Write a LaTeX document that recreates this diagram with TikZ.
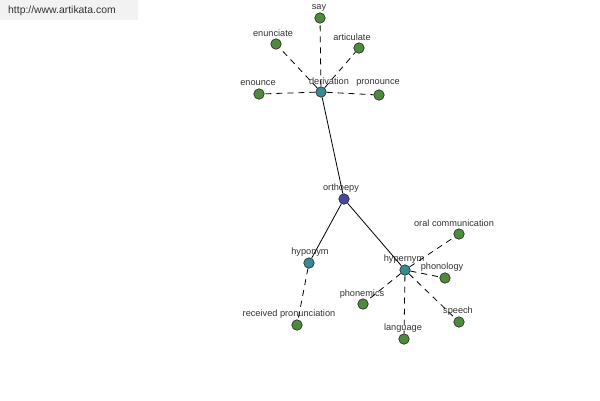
\documentclass[tikz,border=0pt]{standalone}
\usepackage{fontspec}
\setmainfont{Liberation Sans}
\usepackage{tikz}
\usetikzlibrary{positioning}

\definecolor{leafgreen}{RGB}{78,138,62}
\definecolor{hubteal}{RGB}{58,136,146}
\definecolor{rootblue}{RGB}{72,72,160}
\definecolor{labelgray}{RGB}{50,50,50}

\begin{document}
\begin{tikzpicture}[
    x=1pt,y=-1pt,
    dot/.style={circle,draw=black!85,line width=0.6pt,minimum size=10.5pt,inner sep=0pt},
    leaf/.style={dot,fill=leafgreen},
    hub/.style={dot,fill=hubteal},
    root/.style={dot,fill=rootblue},
    tag/.style={inner sep=0pt,font=\fontsize{9.2}{11}\selectfont,text=labelgray},
    rel/.style={line width=0.8pt,black},
    syn/.style={rel,dash pattern=on 6pt off 5pt}
  ]
    \useasboundingbox (0,0) rectangle (600,400);
    % site banner
    \fill[gray!10] (0,0) rectangle (138,20);
    \node[tag,anchor=west,font=\fontsize{10.4}{12}\selectfont] (site) at (8,11) {http://www.artikata.com};

    % central word and its relations
    \node[root] (orth) at (344,199) {};
    \node[hub] (deriv) at (321,92) {};
    \node[hub] (hypo) at (309,263) {};
    \node[hub] (hyper) at (405,270) {};

    \node[tag] (orth-t) at (341,188) {orthoepy};
    \node[tag] (deriv-t) at (329,81) {derivation};
    \node[tag] (hypo-t) at (310,252) {hyponym};
    \node[tag] (hyper-t) at (404,259) {hypernym};

    % leaves
    \foreach \n/\x/\y/\t/\tx/\ty in {
        say/320/18/say/319/8,
        enun/276/44/enunciate/273/33,
        artic/359/48/articulate/352/37,
        enou/259/94/enounce/258/83,
        pron/379/95/pronounce/378/83,
        recv/297/325/received pronunciation/289/314,
        oral/459/234/oral communication/454/223,
        phonol/445/278/phonology/442/267,
        phonem/363/304/phonemics/362/294,
        speech/459/322/speech/458/311,
        lang/404/339/language/403/328}
    {
      \node[leaf] (\n) at (\x,\y) {};
      \node[tag] (\n-t) at (\tx,\ty) {\t};
    }

    \foreach \a/\b in {orth/deriv,orth/hypo,orth/hyper}
      \draw[rel] (\a) -- (\b);
    \foreach \a/\b in {deriv/say,deriv/enun,deriv/artic,deriv/enou,deriv/pron,
        hypo/recv,hyper/oral,hyper/phonol,hyper/phonem,hyper/speech,hyper/lang}
      \draw[syn] (\a) -- (\b);
  \end{tikzpicture}
\end{document}
